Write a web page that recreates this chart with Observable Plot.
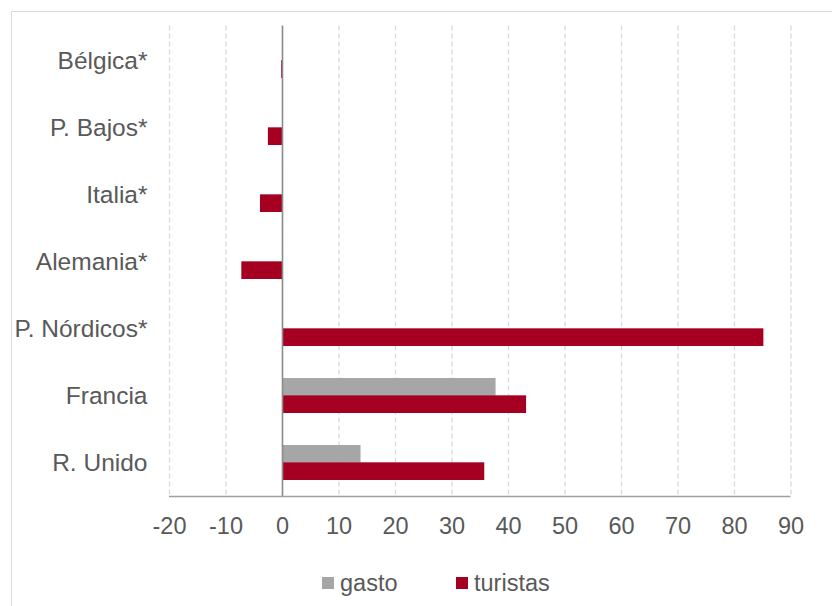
<!DOCTYPE html>
<html>
<head>
<meta charset="utf-8">
<script src="https://cdn.jsdelivr.net/npm/d3@7"></script>
<script src="https://cdn.jsdelivr.net/npm/@observablehq/plot@0.6"></script>
<style>
  html, body { margin: 0; padding: 0; background: #fff; overflow: hidden; width: 832px; height: 606px; }
  body { position: relative; font-family: "Liberation Sans", Arial, sans-serif; color: #595959; }
  #frame { position: absolute; left: 11px; top: 11px; width: 900px; height: 700px; border: 1.5px solid #d9d9d9; box-sizing: border-box; }
  #chart { position: absolute; left: 0; top: 0; }
  #legend { position: absolute; top: 568px; left: 0; width: 832px; height: 30px; font-size: 23.5px; }
  .item { position: absolute; top: 0; display: flex; align-items: center; height: 30px; }
  .sw { width: 12px; height: 12px; margin-right: 6px; }
</style>
</head>
<body>
<div id="frame"></div>
<div id="chart"></div>
<div id="legend"></div>
<script>
const countries = ["Bélgica*", "P. Bajos*", "Italia*", "Alemania*", "P. Nórdicos*", "Francia", "R. Unido"];
const gasto = [null, null, null, null, null, 37.8, 13.9];
const turistas = [-0.15, -2.5, -3.9, -7.2, 85.2, 43.2, 35.8];
const xTicks = [-20, -10, 0, 10, 20, 30, 40, 50, 60, 70, 80, 90];
const seriesNames = ["gasto", "turistas"];
const seriesColors = ["#a6a6a6", "#a50021"];

const gastoData = countries.map((c, i) => ({country: c, value: gasto[i]})).filter(d => d.value != null);
const turData = countries.map((c, i) => ({country: c, value: turistas[i]}));

const W = 832, H = 560;
const mTop = 25.5, mBottom = 63.5;
const padInner = 0.485;
const step = (H - mTop - mBottom) / countries.length;
const half = step * (1 - padInner) / 2;

const axisLine = (index, scales, values, dims) => {
  const y = dims.height - dims.marginBottom;
  return d3.create("svg:line")
    .attr("x1", dims.marginLeft).attr("x2", dims.width - dims.marginRight)
    .attr("y1", y).attr("y2", y)
    .attr("stroke", "#a0a0a0").attr("stroke-width", 1.5).node();
};

const chart = Plot.plot({
  width: W,
  height: H,
  marginLeft: 169,
  marginRight: 41.5,
  marginTop: mTop,
  marginBottom: mBottom,
  style: {fontFamily: "'Liberation Sans', Arial, sans-serif", fontSize: "23.5px", color: "#595959", background: "transparent"},
  x: {domain: [-20, 90], ticks: xTicks},
  y: {type: "band", domain: countries, paddingInner: padInner, paddingOuter: padInner / 2, label: null},
  marks: [
    Plot.ruleX(xTicks.filter(t => t !== 0), {stroke: "#d9d9d9", strokeWidth: 1.3, strokeDasharray: "5,3"}),
    Plot.barX(gastoData, {x: "value", y: "country", fill: seriesColors[0], insetBottom: half}),
    Plot.barX(turData, {x: "value", y: "country", fill: seriesColors[1], insetTop: half}),
    Plot.ruleX([0], {stroke: "#8a8a8a", strokeWidth: 1.6}),
    axisLine,
    Plot.axisX({ticks: xTicks, tickSize: 0, tickPadding: 20, label: null, fontSize: 23.5, tickFormat: d => String(d)}),
    Plot.axisY({tickSize: 0, tickPadding: 22, label: null, fontSize: 24.5})
  ]
});
document.getElementById("chart").appendChild(chart);

const legend = document.getElementById("legend");
const lefts = [322, 456];
seriesNames.forEach((name, i) => {
  const it = document.createElement("div");
  it.className = "item";
  it.style.left = lefts[i] + "px";
  const sw = document.createElement("span");
  sw.className = "sw";
  sw.style.background = seriesColors[i];
  const tx = document.createElement("span");
  tx.textContent = name;
  it.appendChild(sw);
  it.appendChild(tx);
  legend.appendChild(it);
});
</script>
</body>
</html>
